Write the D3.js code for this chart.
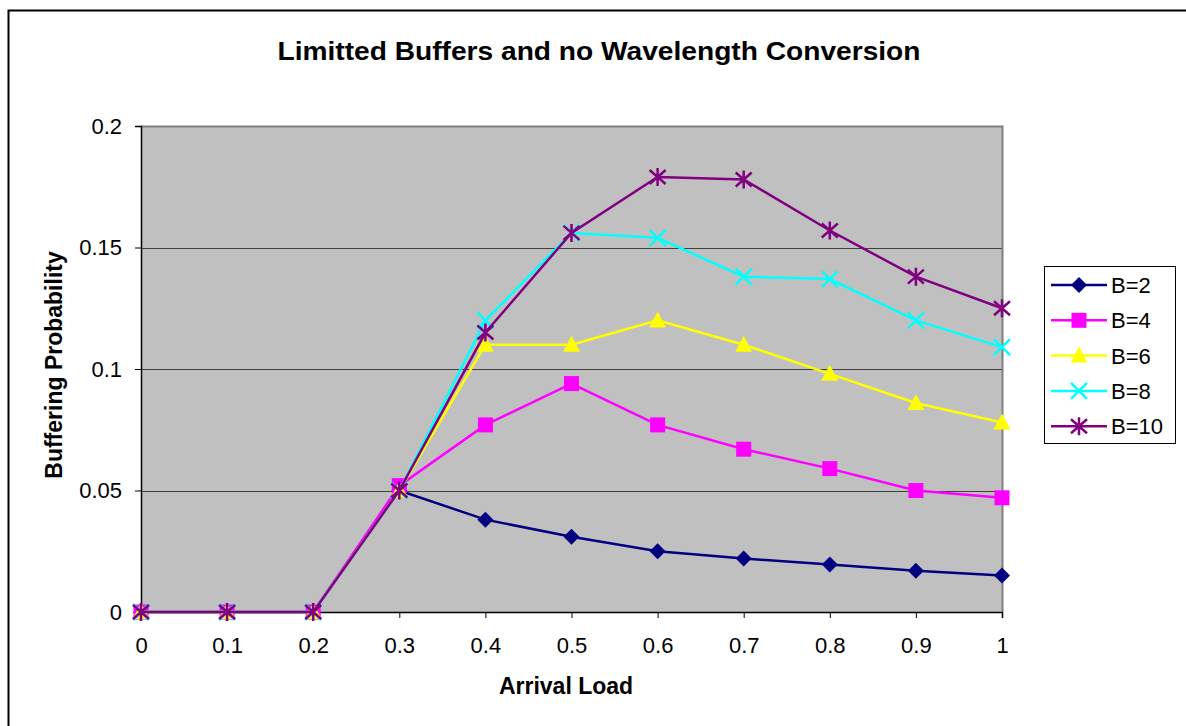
<!DOCTYPE html>
<html>
<head>
<meta charset="utf-8">
<script src="https://cdn.jsdelivr.net/npm/d3@7"></script>
<style>
  body { margin: 0; background: #fff; }
  svg { display: block; font-family: "Liberation Sans", Arial, sans-serif; }
</style>
</head>
<body>
<div id="chart"></div>
<script>
// arrival load categories
const loads = [0, 0.1, 0.2, 0.3, 0.4, 0.5, 0.6, 0.7, 0.8, 0.9, 1];
const yTicks = [0, 0.05, 0.1, 0.15, 0.2];

// buffering probability per buffer size
const b2  = [0, 0, 0, 0.05, 0.038, 0.031, 0.025, 0.022, 0.0195, 0.017, 0.015];
const b4  = [0, 0, 0, 0.052, 0.077, 0.094, 0.077, 0.067, 0.059, 0.05, 0.047];
const b6  = [0, 0, 0, 0.05, 0.11, 0.11, 0.12, 0.11, 0.098, 0.086, 0.078];
const b8  = [0, 0, 0, 0.05, 0.12, 0.156, 0.154, 0.138, 0.137, 0.12, 0.109];
const b10 = [0, 0, 0, 0.05, 0.115, 0.156, 0.179, 0.178, 0.157, 0.138, 0.125];

const seriesNames = ["B=2", "B=4", "B=6", "B=8", "B=10"];
const seriesValues = [b2, b4, b6, b8, b10];
const seriesColors = ["#000080", "#ff00ff", "#ffff00", "#00ffff", "#800080"];
const seriesMarkers = ["diamond", "square", "triangle", "x", "star"];

const W = 1186, H = 726;
const svg = d3.select("#chart").append("svg").attr("width", W).attr("height", H);

// outer chart border
svg.append("path").attr("d", "M8.5,726 V10.5 H1186").attr("fill", "none").attr("stroke", "#000").attr("stroke-width", 2);

const plot = { left: 141, right: 1002, top: 126, bottom: 612 };

const x = d3.scaleLinear().domain([0, 1]).range([plot.left, plot.right]);
const y = d3.scaleLinear().domain([0, 0.2]).range([plot.bottom, plot.top]);

// plot background
svg.append("rect")
  .attr("x", plot.left).attr("y", plot.top)
  .attr("width", plot.right - plot.left).attr("height", plot.bottom - plot.top)
  .attr("fill", "#c0c0c0");

// gridlines
svg.append("g").selectAll("line")
  .data(yTicks.filter(d => d > 0 && d < 0.2))
  .enter().append("line")
  .attr("x1", plot.left).attr("x2", plot.right)
  .attr("y1", d => Math.round(y(d)) + 0.5).attr("y2", d => Math.round(y(d)) + 0.5)
  .attr("stroke", "#404040").attr("stroke-width", 1);

// plot border top/right (gray)
svg.append("path")
  .attr("d", `M${plot.left},${plot.top + 0.5} H${plot.right + 0.5} V${plot.bottom}`)
  .attr("fill", "none").attr("stroke", "#808080").attr("stroke-width", 2);

// axes
const yAxis = svg.append("g")
  .attr("transform", `translate(${plot.left},0)`)
  .call(d3.axisLeft(y).tickValues(yTicks).tickSize(6).tickPadding(13).tickFormat(d => String(d)));
const xAxis = svg.append("g")
  .attr("transform", `translate(0,${plot.bottom})`)
  .call(d3.axisBottom(x).tickValues(loads).tickSize(6).tickPadding(19).tickFormat(d => String(d)));

[yAxis, xAxis].forEach(ax => {
  ax.attr("font-size", null).attr("font-family", null);
  ax.select(".domain").attr("stroke", "#000").attr("stroke-width", 1.5);
  ax.selectAll(".tick line").attr("stroke", "#000");
  ax.selectAll("text").style("font-size", "22px").attr("fill", "#000");
});

// marker symbols
function drawMarker(g, type, color, cx, cy) {
  if (type === "diamond") {
    g.append("path").attr("d", `M${cx},${cy - 8} L${cx + 8},${cy} L${cx},${cy + 8} L${cx - 8},${cy} Z`).attr("fill", color);
  } else if (type === "square") {
    g.append("rect").attr("x", cx - 7.5).attr("y", cy - 7.5).attr("width", 15).attr("height", 15).attr("fill", color);
  } else if (type === "triangle") {
    g.append("path").attr("d", `M${cx},${cy - 9} L${cx + 8.5},${cy + 7} L${cx - 8.5},${cy + 7} Z`).attr("fill", color);
  } else if (type === "x") {
    g.append("path").attr("d", `M${cx - 8},${cy - 8} L${cx + 8},${cy + 8} M${cx - 8},${cy + 8} L${cx + 8},${cy - 8}`)
      .attr("stroke", color).attr("stroke-width", 2.5);
  } else if (type === "star") {
    g.append("path").attr("d", `M${cx - 8},${cy - 7} L${cx + 8},${cy + 7} M${cx - 8},${cy + 7} L${cx + 8},${cy - 7} M${cx},${cy - 9} L${cx},${cy + 9}`)
      .attr("stroke", color).attr("stroke-width", 2.5);
  }
}

const line = d3.line().x((d, i) => x(loads[i])).y(d => y(d));

seriesValues.forEach((vals, si) => {
  const g = svg.append("g");
  g.append("path").datum(vals)
    .attr("d", line)
    .attr("fill", "none")
    .attr("stroke", seriesColors[si])
    .attr("stroke-width", 2.5);
  vals.forEach((v, i) => drawMarker(g, seriesMarkers[si], seriesColors[si], x(loads[i]), y(v)));
});

// title and axis labels
svg.append("text")
  .attr("x", 599).attr("y", 60)
  .attr("text-anchor", "middle")
  .attr("font-size", 26).attr("font-weight", "bold")
  .attr("textLength", 643).attr("lengthAdjust", "spacingAndGlyphs")
  .text("Limitted Buffers and no Wavelength Conversion");

svg.append("text")
  .attr("x", 566).attr("y", 694)
  .attr("text-anchor", "middle")
  .attr("font-size", 23).attr("font-weight", "bold")
  .text("Arrival Load");

svg.append("text")
  .attr("transform", "translate(62,365) rotate(-90)")
  .attr("text-anchor", "middle")
  .attr("font-size", 23).attr("font-weight", "bold")
  .text("Buffering Probability");

// legend
const legend = svg.append("g");
legend.append("rect")
  .attr("x", 1044.5).attr("y", 266.5).attr("width", 131).attr("height", 177)
  .attr("fill", "#fff").attr("stroke", "#000").attr("stroke-width", 1);

seriesNames.forEach((name, i) => {
  const cy = 285 + i * 35.3;
  const row = legend.append("g");
  row.append("line").attr("x1", 1051).attr("x2", 1107).attr("y1", cy).attr("y2", cy)
    .attr("stroke", seriesColors[i]).attr("stroke-width", 2.5);
  drawMarker(row, seriesMarkers[i], seriesColors[i], 1079, cy);
  row.append("text").attr("x", 1111).attr("y", cy + 8)
    .attr("font-size", 22).text(name);
});
</script>
</body>
</html>
